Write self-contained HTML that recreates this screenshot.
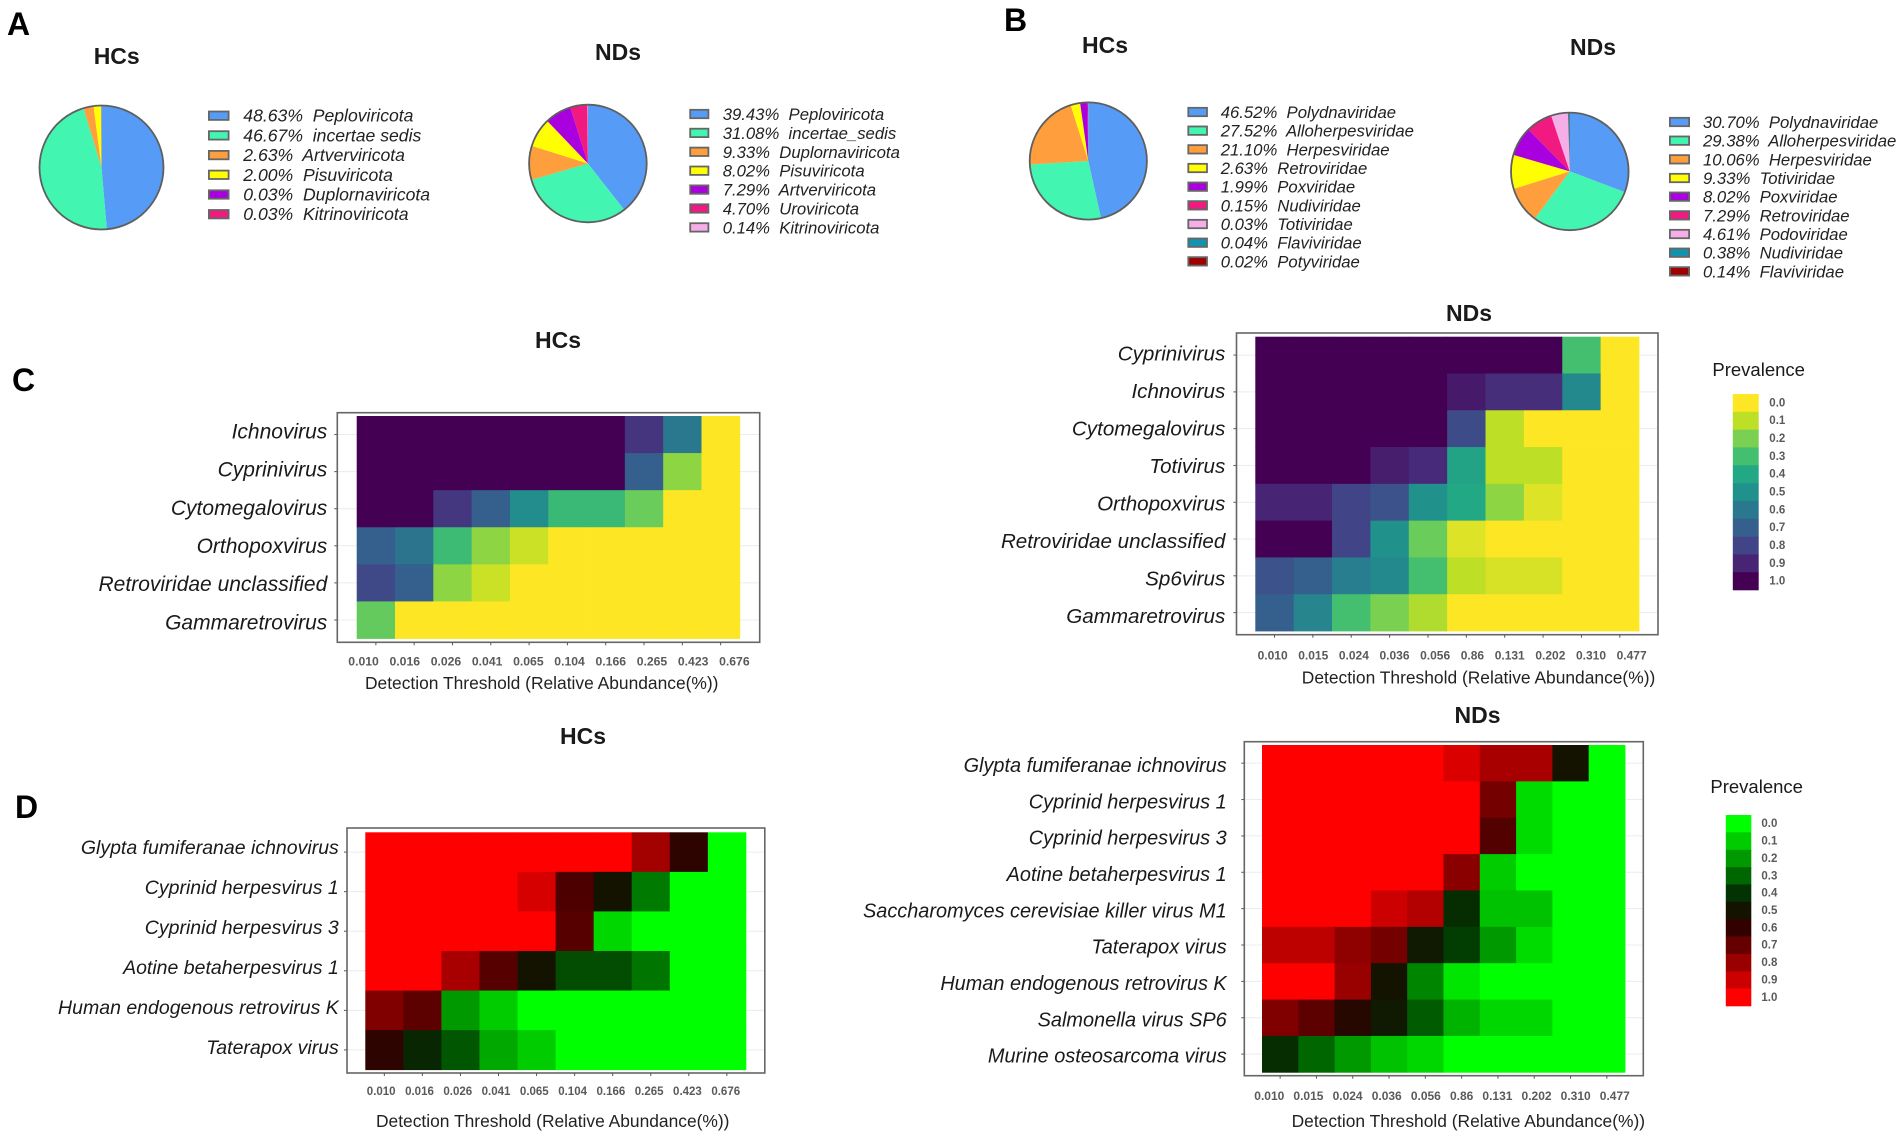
<!DOCTYPE html>
<html lang="en">
<head>
<meta charset="utf-8">
<title>Virome composition and core prevalence heatmaps</title>
<style>
html,body{margin:0;padding:0;background:#fff;}
svg{display:block;font-family:"Liberation Sans",Arial,sans-serif;}
</style>
</head>
<body>
<svg id="figure" xmlns="http://www.w3.org/2000/svg" width="1902" height="1139" viewBox="0 0 1902 1139"></svg>
<script>
// ---------- Pie data ----------
const pieAHcLabels = ["Peploviricota","incertae sedis","Artverviricota","Pisuviricota","Duplornaviricota","Kitrinoviricota"];
const pieAHcValues = [48.63,46.67,2.63,2.00,0.03,0.03];
const pieANdLabels = ["Peploviricota","incertae_sedis","Duplornaviricota","Pisuviricota","Artverviricota","Uroviricota","Kitrinoviricota"];
const pieANdValues = [39.43,31.08,9.33,8.02,7.29,4.70,0.14];
const pieBHcLabels = ["Polydnaviridae","Alloherpesviridae","Herpesviridae","Retroviridae","Poxviridae","Nudiviridae","Totiviridae","Flaviviridae","Potyviridae"];
const pieBHcValues = [46.52,27.52,21.10,2.63,1.99,0.15,0.03,0.04,0.02];
const pieBNdLabels = ["Polydnaviridae","Alloherpesviridae","Herpesviridae","Totiviridae","Poxviridae","Retroviridae","Podoviridae","Nudiviridae","Flaviviridae"];
const pieBNdValues = [30.70,29.38,10.06,9.33,8.02,7.29,4.61,0.38,0.14];

// ---------- Heatmap data ----------
const thresholdsHc = ["0.010","0.016","0.026","0.041","0.065","0.104","0.166","0.265","0.423","0.676"];
const thresholdsNd = ["0.010","0.015","0.024","0.036","0.056","0.86","0.131","0.202","0.310","0.477"];
const prevalenceLevels = [0,0.1,0.2,0.3,0.4,0.5,0.6,0.7,0.8,0.9,1];

const heatCHcRows = ["Ichnovirus","Cyprinivirus","Cytomegalovirus","Orthopoxvirus","Retroviridae unclassified","Gammaretrovirus"];
const heatCHcValues = [
  [1,1,1,1,1,1,1,0.85,0.6,0],
  [1,1,1,1,1,1,1,0.7,0.17,0],
  [1,1,0.84,0.7,0.52,0.33,0.33,0.23,0,0],
  [0.7,0.62,0.32,0.17,0.08,0,0,0,0,0],
  [0.78,0.7,0.17,0.08,0,0,0,0,0,0],
  [0.24,0,0,0,0,0,0,0,0,0]
];
const heatCNdRows = ["Cyprinivirus","Ichnovirus","Cytomegalovirus","Totivirus","Orthopoxvirus","Retroviridae unclassified","Sp6virus","Gammaretrovirus"];
const heatCNdValues = [
  [1,1,1,1,1,1,1,1,0.3,0],
  [1,1,1,1,1,0.93,0.87,0.87,0.53,0],
  [1,1,1,1,1,0.77,0.1,0,0,0],
  [1,1,1,0.92,0.88,0.42,0.1,0.1,0,0],
  [0.9,0.9,0.8,0.75,0.5,0.4,0.17,0.05,0,0],
  [1,1,0.8,0.5,0.23,0.05,0,0,0,0],
  [0.75,0.7,0.58,0.53,0.3,0.1,0.06,0.06,0,0],
  [0.7,0.55,0.3,0.2,0.12,0,0,0,0,0]
];
const heatDHcRows = ["Glypta fumiferanae ichnovirus","Cyprinid herpesvirus 1","Cyprinid herpesvirus 3","Aotine betaherpesvirus 1","Human endogenous retrovirus K","Taterapox virus"];
const heatDHcValues = [
  [1,1,1,1,1,1,1,0.82,0.58,0],
  [1,1,1,1,0.92,0.65,0.5,0.26,0,0],
  [1,1,1,1,1,0.67,0.08,0,0,0],
  [1,1,0.83,0.67,0.5,0.35,0.35,0.27,0,0],
  [0.75,0.68,0.2,0.1,0,0,0,0,0,0],
  [0.58,0.44,0.33,0.17,0.1,0,0,0,0,0]
];
const heatDNdRows = ["Glypta fumiferanae ichnovirus","Cyprinid herpesvirus 1","Cyprinid herpesvirus 3","Aotine betaherpesvirus 1","Saccharomyces cerevisiae killer virus M1","Taterapox virus","Human endogenous retrovirus K","Salmonella virus SP6","Murine osteosarcoma virus"];
const heatDNdValues = [
  [1,1,1,1,1,0.93,0.83,0.83,0.5,0],
  [1,1,1,1,1,1,0.73,0.07,0,0],
  [1,1,1,1,1,1,0.66,0.07,0,0],
  [1,1,1,1,1,0.77,0.1,0,0,0],
  [1,1,1,0.9,0.85,0.42,0.12,0.12,0,0],
  [0.87,0.87,0.78,0.73,0.48,0.38,0.2,0.07,0,0],
  [1,1,0.8,0.5,0.24,0.05,0,0,0,0],
  [0.75,0.68,0.56,0.48,0.32,0.15,0.08,0.08,0,0],
  [0.42,0.3,0.2,0.12,0.08,0,0,0,0,0]
];

// ---------- Colour scales ----------
const viridisStops = ["#fde725","#bddf26","#7ad151","#44bf70","#22a884","#21918c","#2a788e","#355f8d","#414487","#482475","#440154"];
const redGreenStops = ["#00ff00","#00cc00","#009900","#006600","#033303","#131300","#330000","#660000","#990000","#cc0000","#ff0000"];
const piePalette = ["#569cf7","#42f5b0","#ff9e3d","#ffff00","#aa00e0","#f01a80","#f5aee8","#1392ad","#a00000"];

const NS = "http://www.w3.org/2000/svg";
const root = document.getElementById("figure");

function make(tag, attrs, parent) {
  const node = document.createElementNS(NS, tag);
  for (const k in attrs) node.setAttribute(k, attrs[k]);
  parent.appendChild(node);
  return node;
}
function hexToRgb(h) {
  return [parseInt(h.slice(1,3),16), parseInt(h.slice(3,5),16), parseInt(h.slice(5,7),16)];
}
function colorFor(stops, v) {
  const p = Math.max(0, Math.min(1, v)) * (stops.length - 1);
  const i = Math.min(stops.length - 2, Math.floor(p));
  const t = p - i;
  const a = hexToRgb(stops[i]), b = hexToRgb(stops[i + 1]);
  return "rgb(" + a.map((c, n) => Math.round(c + (b[n] - c) * t)).join(",") + ")";
}

function drawTitle(text, cx, baseline, size) {
  const el = make("text", {x: cx, y: baseline, "text-anchor": "middle", "font-size": size, "font-weight": "bold", fill: "#1a1a1a"}, root);
  
  
  el.textContent = text;
}
function drawPanelLetter(text, x, baseline) {
  const el = make("text", {x: x, y: baseline, "font-size": 32, "font-weight": "bold", fill: "#000"}, root);
  
  
  el.textContent = text;
}

function drawPie(name, labels, values, g) {
  const group = make("g", {}, root);
  
  
  const total = values.reduce((s, v) => s + v, 0);
  const angle = v => v / total * Math.PI * 2;
  let cum = 0;
  values.forEach((v, i) => {
    const a0 = cum, a1 = cum + angle(v);
    cum = a1;
    const x0 = g.cx + g.r * Math.sin(a0), y0 = g.cy - g.r * Math.cos(a0);
    const x1 = g.cx + g.r * Math.sin(a1), y1 = g.cy - g.r * Math.cos(a1);
    const large = a1 - a0 > Math.PI ? 1 : 0;
    const d = "M" + g.cx + " " + g.cy + "L" + x0 + " " + y0 + "A" + g.r + " " + g.r + " 0 " + large + " 1 " + x1 + " " + y1 + "Z";
    const slice = make("path", {d: d, fill: piePalette[i]}, group);
    
    
  });
  const ring = make("circle", {cx: g.cx, cy: g.cy, r: g.r, fill: "none", stroke: "#5f5f5f", "stroke-width": 1.8}, group);
  
  

  const legend = make("g", {}, root);
  
  
  labels.forEach((lab, i) => {
    const yc = g.ly + i * g.lstep;
    const sw = make("rect", {x: g.sx + 0.9, y: yc - 4.2, width: g.sw - 1.8, height: 8.4, fill: piePalette[i], stroke: "#666", "stroke-width": 1.8}, legend);
    
    
    const t = make("text", {x: g.tx, y: yc + 6, "font-size": g.fs, "font-style": "italic", fill: "#222", style: "white-space:pre"}, legend);
    
    
    t.textContent = values[i].toFixed(2) + "%  " + lab;
  });
}

function drawHeatmap(name, rows, thresholds, values, stops, g) {
  const group = make("g", {}, root);
  
  
  const nCols = thresholds.length, nRows = rows.length;
  const cw = (g.cx1 - g.cx0) / nCols, ch = (g.cy1 - g.cy0) / nRows;
  const xScale = i => g.cx0 + i * cw;
  const yScale = j => g.cy0 + j * ch;

  rows.forEach((lab, j) => {
    const yc = yScale(j) + ch / 2;
    const grid = make("line", {x1: g.px0, x2: g.px1, y1: yc, y2: yc, stroke: "#ececec", "stroke-width": 1}, group);
    
    
    const tick = make("line", {x1: g.px0 - 3, x2: g.px0, y1: yc, y2: yc, stroke: "#555", "stroke-width": 1}, group);
    
    
    const t = make("text", {x: g.lx, y: g.lb0 + j * g.lbStep, "text-anchor": "end", "font-size": g.lfs, "font-style": "italic", fill: "#1a1a1a"}, group);
    
    
    t.textContent = lab;
  });

  values.forEach((row, j) => {
    row.forEach((v, i) => {
      const cell = make("rect", {x: xScale(i), y: yScale(j), width: cw + 0.4, height: ch + 0.4, fill: colorFor(stops, v)}, group);
      
      
    });
  });

  const frame = make("rect", {x: g.px0, y: g.py0, width: g.px1 - g.px0, height: g.py1 - g.py0, fill: "none", stroke: "#666", "stroke-width": 1.6}, group);
  
  

  let cursor = g.tickStart;
  thresholds.forEach((lab, i) => {
    const xc = xScale(i) + cw / 2;
    const tick = make("line", {x1: xc, x2: xc, y1: g.py1, y2: g.py1 + 3, stroke: "#555", "stroke-width": 1}, group);
    
    
    const t = make("text", {x: cursor, y: g.tickY + 4, "font-size": g.tfs, "font-weight": "bold", fill: "#5a5a5a"}, group);
    
    
    t.textContent = lab;
    cursor += t.getComputedTextLength() + g.tickGap;
  });

  const axis = make("text", {x: g.axisX, y: g.axisY + 6, "font-size": 17.4, fill: "#222"}, group);
  
  
  axis.textContent = "Detection Threshold (Relative Abundance(%))";
}

function drawScaleLegend(name, stops, g) {
  const group = make("g", {}, root);
  
  
  const title = make("text", {x: g.tx, y: g.ty + 6, "font-size": 18.5, fill: "#1a1a1a"}, group);
  
  
  title.textContent = "Prevalence";
  const h = (g.y1 - g.y0) / prevalenceLevels.length;
  prevalenceLevels.forEach((v, i) => {
    const y = g.y0 + i * h;
    const box = make("rect", {x: g.x0, y: y, width: g.x1 - g.x0, height: h + 0.3, fill: colorFor(stops, v)}, group);
    
    
    const t = make("text", {x: g.lx, y: y + h / 2 + 3.5, "font-size": 11.5, "font-weight": "bold", fill: "#5a5a5a"}, group);
    
    
    t.textContent = v.toFixed(1);
  });
}

// ---------- Composition ----------
drawPanelLetter("A", 7, 35);
drawPanelLetter("B", 1004, 31);
drawPanelLetter("C", 12, 391);
drawPanelLetter("D", 15, 818);

drawTitle("HCs", 116.7, 64, 23);
drawTitle("NDs", 618, 60, 23);
drawTitle("HCs", 1105, 53, 23);
drawTitle("NDs", 1593, 55, 23);
drawTitle("HCs", 558, 348, 23);
drawTitle("NDs", 1469, 321, 23);
drawTitle("HCs", 583, 744, 23);
drawTitle("NDs", 1477.5, 723, 23);

drawPie("pie-a-hcs", pieAHcLabels, pieAHcValues, {cx:101.5, cy:167.5, r:62, sx:208, sw:21.5, ly:115.7, lstep:19.7, tx:243.3, fs:17.6});
drawPie("pie-a-nds", pieANdLabels, pieANdValues, {cx:587.9, cy:163.5, r:58.8, sx:689.3, sw:20, ly:114, lstep:18.9, tx:722.7, fs:16.7});
drawPie("pie-b-hcs", pieBHcLabels, pieBHcValues, {cx:1088.3, cy:161, r:58.6, sx:1187.4, sw:20.5, ly:112, lstep:18.67, tx:1220.7, fs:16.7});
drawPie("pie-b-nds", pieBNdLabels, pieBNdValues, {cx:1569.8, cy:171.4, r:58.8, sx:1669, sw:21, ly:122, lstep:18.67, tx:1703, fs:16.7});

drawHeatmap("heatmap-c-hcs", heatCHcRows, thresholdsHc, heatCHcValues, viridisStops,
  {px0:337.3, px1:759.7, py0:412.7, py1:642.3, cx0:356.7, cx1:739.8, cy0:416, cy1:638.5, lx:327.3, lfs:21, lb0:438.4, lbStep:38.2, tickStart:348.3, tickGap:10.7, tickY:661.7, tfs:12.2, axisX:365, axisY:683});
drawHeatmap("heatmap-c-nds", heatCNdRows, thresholdsNd, heatCNdValues, viridisStops,
  {px0:1236.5, px1:1658, py0:333, py1:634.7, cx0:1255.3, cx1:1639, cy0:336.7, cy1:631, lx:1225.3, lfs:20.6, lb0:360.7, lbStep:37.5, tickStart:1257.6, tickGap:10.6, tickY:655.7, tfs:12, axisX:1301.8, axisY:677.7});
drawHeatmap("heatmap-d-hcs", heatDHcRows, thresholdsHc, heatDHcValues, redGreenStops,
  {px0:347, px1:764.8, py0:828, py1:1073, cx0:365.3, cx1:745.9, cy0:832.3, cy1:1069.7, lx:338.8, lfs:19.5, lb0:854.2, lbStep:39.95, tickStart:366.8, tickGap:9.5, tickY:1091, tfs:11.5, axisX:376, axisY:1121});
drawHeatmap("heatmap-d-nds", heatDNdRows, thresholdsNd, heatDNdValues, redGreenStops,
  {px0:1244.3, px1:1643.3, py0:741.7, py1:1075.7, cx0:1262, cx1:1625, cy0:745, cy1:1072.3, lx:1226.7, lfs:19.9, lb0:771.9, lbStep:36.35, tickStart:1254.3, tickGap:9.1, tickY:1096, tfs:12, axisX:1291.6, axisY:1121});

drawScaleLegend("prevalence-legend-viridis", viridisStops, {tx:1712.4, ty:370, x0:1732.8, x1:1758.7, y0:394, y1:590, lx:1769.3});
drawScaleLegend("prevalence-legend-red-green", redGreenStops, {tx:1710.4, ty:787, x0:1725.8, x1:1751.3, y0:815, y1:1006, lx:1761.4});
</script>
</body>
</html>
